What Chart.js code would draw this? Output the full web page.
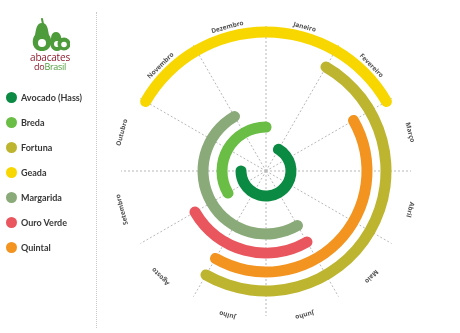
<!DOCTYPE html>
<html>
<head>
<meta charset="utf-8">
<title>Calendário de safra</title>
<script src="https://cdn.jsdelivr.net/npm/chart.js@4.4.1/dist/chart.umd.min.js"></script>
<style>
  html, body { margin: 0; padding: 0; background: #fff; }
  #wrap { position: relative; width: 460px; height: 333px; overflow: hidden; }
  #harvest { position: absolute; left: 0; top: 0; }
  .divider { position: absolute; left: 96px; top: 12px; height: 316px; border-left: 1px dotted #c9c9c9; }
  .logo { position: absolute; left: 22px; top: 18px; width: 56px; text-align: center; font-family: "Open Sans", sans-serif; }
  .logo svg { display: block; margin: 0 auto; }
  .logo .l1 { font-size: 10px; line-height: 9px; color: #8e1b2c; letter-spacing: -0.2px; margin-top: 1px; }
  .logo .l2 { font-size: 9px; line-height: 9px; color: #8e1b2c; letter-spacing: -0.3px; }
  .logo .l2 span { color: #4d9b3a; }
  #legend { position: absolute; left: 6px; top: 85px; margin: 0; padding: 0; list-style: none;
            font-family: Lato, sans-serif; font-weight: bold; font-size: 9px; color: #383838; }
  #legend li { display: flex; align-items: center; height: 25px; }
  #legend i { display: inline-block; width: 11px; height: 11px; border-radius: 50%; margin-right: 4px; }
</style>
</head>
<body>
<div id="wrap">
  <canvas id="harvest" width="460" height="333"></canvas>
  <div class="divider"></div>
  <div class="logo">
    <svg width="40" height="34" viewBox="0 0 40 34">
      <path d="M12 1 L13 6" stroke="#4d9b3a" stroke-width="2" stroke-linecap="round"/>
      <path d="M12 5 C6 5 6 13 5 17 C1 22 2 33 12 33 C22 33 23 22 19 17 C18 13 18 5 12 5 Z" fill="#4d9b3a"/>
      <circle cx="12" cy="25" r="4" fill="#fff"/>
      <path d="M26 14 C21 14 21 20 21 22 C19 26 21 33 27 33 C33 33 34 26 32 22 C31 20 31 14 26 14 Z" fill="#4d9b3a"/>
      <circle cx="27" cy="26" r="3" fill="#fff"/>
      <circle cx="34" cy="26" r="6.5" fill="#4d9b3a"/>
      <circle cx="34" cy="26.5" r="2.8" fill="#fff"/>
    </svg>
    <div class="l1">abacates</div>
    <div class="l2">do<span>Brasil</span></div>
  </div>
  <ul id="legend"></ul>
</div>
<script>
const months = ['Janeiro', 'Fevereiro', 'Março', 'Abril', 'Maio', 'Junho',
  'Julho', 'Agosto', 'Setembro', 'Outubro', 'Novembro', 'Dezembro'];

const varieties = ['Avocado (Hass)', 'Breda', 'Fortuna', 'Geada', 'Margarida', 'Ouro Verde', 'Quintal'];
const colors = ['#0b8a43', '#6abd45', '#bdb52f', '#f8d700', '#8aab79', '#e9565e', '#f39420'];

// harvest window per variety, first and last month (1 = Janeiro)
const firstMonth = [2, 9, 2, 11, 6, 6, 3];
const lastMonth = [9, 12, 7, 2, 11, 8, 7];

// rings from the centre outwards
const ringOrder = ['Avocado (Hass)', 'Breda', 'Margarida', 'Ouro Verde', 'Quintal', 'Fortuna', 'Geada'];

const ringWidth = 11;
const ringGap = 8;
const holeRadius = 19.5;
const outerRadius = holeRadius + ringOrder.length * ringWidth + (ringOrder.length - 1) * ringGap;
const gridRadius = 145;
const labelRadius = 149;

// legend
const legendEl = document.getElementById('legend');
varieties.forEach((name, i) => {
  const li = document.createElement('li');
  li.innerHTML = '<i style="background:' + colors[i] + '"></i>' + name;
  legendEl.appendChild(li);
});

// doughnut datasets go outermost first, with transparent rings as spacing
const datasets = [];
ringOrder.slice().reverse().forEach((name, k) => {
  if (k > 0) {
    datasets.push({ data: [1], backgroundColor: 'rgba(0,0,0,0)', weight: ringGap });
  }
  const i = varieties.indexOf(name);
  const ring = ringOrder.length - 1 - k;
  const midRadius = holeRadius + ring * (ringWidth + ringGap) + ringWidth / 2;
  // round ends stick out past the month boundary, like a stroked line cap
  const cap = (ringWidth / 2) / midRadius * 180 / Math.PI;
  const span = ((lastMonth[i] - firstMonth[i] + 12) % 12) + 1;
  datasets.push({
    label: name,
    data: [span],
    backgroundColor: colors[i],
    weight: ringWidth,
    rotation: (firstMonth[i] - 1) * 30 - cap,
    circumference: span * 30 + 2 * cap,
    borderRadius: ringWidth / 2
  });
});

const monthGrid = {
  id: 'monthGrid',
  beforeDatasetsDraw(chart) {
    const arc = chart.getDatasetMeta(0).data[0];
    const { ctx } = chart;
    ctx.save();
    ctx.strokeStyle = '#b8b8b8';
    ctx.lineWidth = 1;
    ctx.setLineDash([2, 2]);
    months.forEach((m, i) => {
      const a = (i * 30 - 90) * Math.PI / 180;
      ctx.beginPath();
      ctx.moveTo(arc.x, arc.y);
      ctx.lineTo(arc.x + Math.cos(a) * gridRadius, arc.y + Math.sin(a) * gridRadius);
      ctx.stroke();
    });
    ctx.restore();
  },
  afterDatasetsDraw(chart) {
    const arc = chart.getDatasetMeta(0).data[0];
    const { ctx } = chart;
    ctx.save();
    ctx.font = 'bold 6.5px "Open Sans"';
    ctx.fillStyle = '#505050';
    ctx.textAlign = 'center';
    ctx.textBaseline = 'middle';
    months.forEach((m, i) => {
      ctx.save();
      ctx.translate(arc.x, arc.y);
      ctx.rotate((i * 30 + 15) * Math.PI / 180);
      ctx.fillText(m, 0, -labelRadius);
      ctx.restore();
    });
    ctx.restore();
  }
};

new Chart(document.getElementById('harvest'), {
  type: 'doughnut',
  data: {
    labels: ['safra'],
    datasets: datasets
  },
  options: {
    responsive: false,
    animation: false,
    events: [],
    radius: outerRadius,
    cutout: (holeRadius / outerRadius * 100) + '%',
    layout: { padding: { left: 72, right: 0, top: 9, bottom: 0 } },
    elements: { arc: { borderWidth: 0, hoverOffset: 0 } },
    plugins: {
      legend: { display: false },
      tooltip: { enabled: false }
    }
  },
  plugins: [monthGrid]
});
</script>
</body>
</html>
